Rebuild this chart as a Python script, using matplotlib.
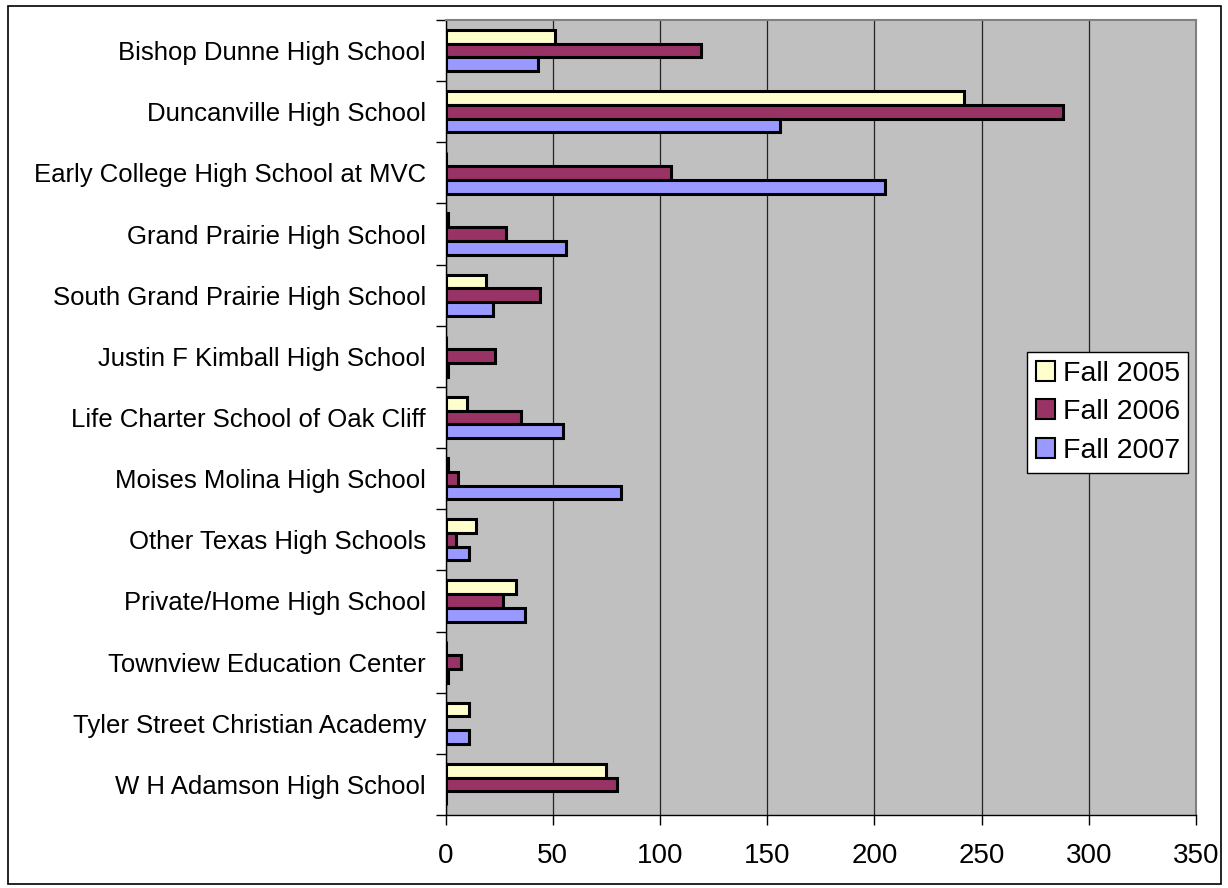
import matplotlib
matplotlib.use("Agg")
import matplotlib.pyplot as plt
import numpy as np
from matplotlib.patches import Rectangle

plt.rcParams['font.family'] = ['Liberation Sans', 'DejaVu Sans']

schools = ["Bishop Dunne High School", "Duncanville High School",
           "Early College High School at MVC", "Grand Prairie High School",
           "South Grand Prairie High School", "Justin F Kimball High School",
           "Life Charter School of Oak Cliff", "Moises Molina High School",
           "Other Texas High Schools", "Private/Home High School",
           "Townview Education Center", "Tyler Street Christian Academy",
           "W H Adamson High School"]
fall_2005 = [51, 242, 0, 1, 19, 0, 10, 1, 14, 33, 0, 11, 75]
fall_2006 = [119, 288, 105, 28, 44, 23, 35, 6, 5, 27, 7, 0, 80]
fall_2007 = [43, 156, 205, 56, 22, 1, 55, 82, 11, 37, 1, 11, 0]
series_names = ["Fall 2005", "Fall 2006", "Fall 2007"]
colors = ["#FFFFCC", "#993366", "#9999FF"]
xticks = [0, 50, 100, 150, 200, 250, 300, 350]

W, H = 1228, 888
fig = plt.figure(figsize=(W / 100, H / 100), dpi=100)
L, R, T, B = 445.5, 1196, 20, 815
ax = fig.add_axes([L / W, 1 - B / H, (R - L) / W, (B - T) / H])
ax.set_facecolor("#C0C0C0")

y = np.arange(len(schools))
h = 0.225
for i, (vals, name, c) in enumerate(zip([fall_2005, fall_2006, fall_2007], series_names, colors)):
    ax.barh(y + (i - 1) * h, vals, height=h, color=c, edgecolor="black",
            linewidth=2.2, label=name, zorder=3)

ax.set_xlim(0, 350)
ax.set_ylim(len(schools) - 0.5, -0.5)
ax.set_xticks(xticks)
ax.set_xticklabels([str(t) for t in xticks], fontsize=20)
ax.set_yticks(y)
ax.set_yticklabels(schools, fontsize=18.5)
ax.set_yticks(np.arange(-0.5, len(schools)), minor=True)
ax.tick_params(axis='y', which='major', length=0, pad=14)
ax.tick_params(axis='y', which='minor', length=7, width=1)
ax.tick_params(axis='x', which='major', length=7, width=1, pad=13)
ax.xaxis.grid(True, color="#222222", linewidth=0.9, zorder=0)
ax.set_axisbelow(True)
for s in ["top", "right"]:
    ax.spines[s].set_edgecolor("#808080")
    ax.spines[s].set_linewidth(1.5)
ax.spines["left"].set_linewidth(1)
ax.spines["bottom"].set_linewidth(1)

# legend box: x 1027-1192, y 352-479 (pixels)
lx1, ly1, lx2, ly2 = 1027, 352, 1192, 479
leg = ax.legend(loc="upper left",
                bbox_to_anchor=((lx1 - L) / (R - L), 1 - (ly1 - T) / (B - T)),
                fontsize=20.5, frameon=True, fancybox=False, edgecolor="black",
                framealpha=1, facecolor="white",
                handlelength=0.7, handleheight=0.7, handletextpad=0.25,
                borderpad=0.3, labelspacing=0.45, borderaxespad=0)
leg.get_frame().set_linewidth(1)
for p in leg.get_patches():
    p.set_linewidth(1.5)

fig.patches.append(Rectangle((8 / W, 1 - 884 / H), (1221 - 8) / W, (884 - 6) / H,
                             transform=fig.transFigure, fill=False,
                             edgecolor="black", linewidth=1.2))
fig.savefig("out.png", dpi=100, facecolor="white")
